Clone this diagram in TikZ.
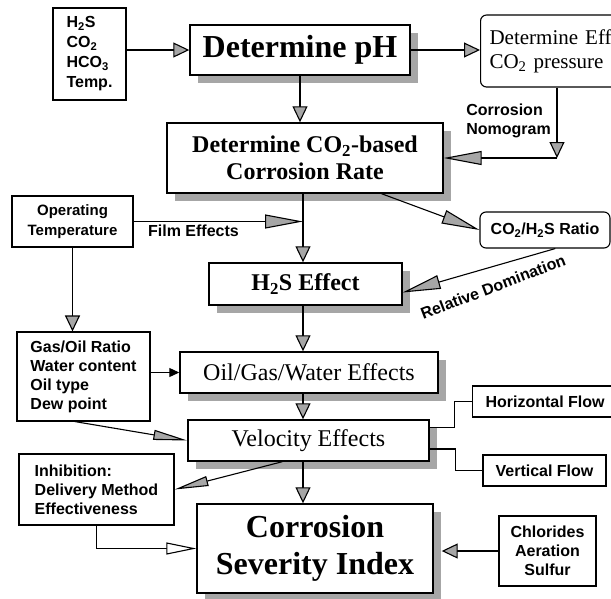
\documentclass[tikz,border=0pt]{standalone}
\usepackage{fontspec}
\setmainfont{Liberation Serif}
\setsansfont{Liberation Sans}
\usepackage{tikz}
\usetikzlibrary{arrows.meta, positioning, shadows, calc}
\tikzstyle{bigbox} = [rectangle, draw, line width=1.4pt, fill=white, align=center,
    drop shadow={shadow xshift=8pt, shadow yshift=-8pt, fill=gray!70, opacity=1},
    font=\bfseries\fontsize{24}{27}\selectfont]
\tikzstyle{plainbox} = [rectangle, draw, line width=1.4pt, fill=white, align=center,
    drop shadow={shadow xshift=8pt, shadow yshift=-8pt, fill=gray!70, opacity=1},
    font=\fontsize{24}{27}\selectfont]
\tikzstyle{info} = [rectangle, draw, line width=1.1pt, fill=white,
    font=\sffamily\bfseries\fontsize{16}{19}\selectfont]
\tikzstyle{note} = [font=\sffamily\bfseries\fontsize{16}{19}\selectfont, inner sep=2pt]
\tikzstyle{arrow} = [line width=1.1pt, -{Triangle[length=16pt, width=15pt, fill=gray!70]}]
\tikzstyle{longarrow} = [line width=1.1pt, -{Triangle[length=38pt, width=14pt, fill=gray!70]}]
\tikzstyle{thinarrow} = [line width=1.1pt, -{Triangle[length=34pt, width=10pt, fill=gray!70]}]
\tikzstyle{openarrow} = [line width=1.1pt, -{Triangle[length=30pt, width=12pt, fill=white]}]
\tikzstyle{smallarrow} = [line width=1.1pt, -{Triangle[length=10pt, width=9pt]}]

\begin{document}
\begin{tikzpicture}[x=1pt, y=-1pt]
    \useasboundingbox (0,0) rectangle (611,598);
    \coordinate (mid) at (303,0);
    \coordinate (nomo) at (557,158);

    % Main chain
    \node[bigbox, font=\bfseries\fontsize{32}{34}\selectfont, minimum width=220pt, minimum height=50pt] (ph) at (300,50) {Determine pH};
    \node[bigbox, minimum width=276pt, minimum height=70pt] (rate) at (305,158) {Determine CO\textsubscript{2}-based\\Corrosion Rate};
    \node[bigbox, minimum width=193pt, minimum height=42pt] (h2s) at (305.5,284) {H\textsubscript{2}S Effect};
    \node[plainbox, minimum width=258pt, minimum height=41pt] (ogw) at (309,372.5) {Oil/Gas/Water Effects};
    \node[plainbox, minimum width=241pt, minimum height=41pt] (vel) at (308.5,440.5) {Velocity Effects};
    \node[bigbox, font=\bfseries\fontsize{32}{37}\selectfont, minimum width=236pt, minimum height=89pt] (csi) at (315,548.5) {Corrosion\\Severity Index};

    % Side boxes
    \node[info, align=left, font=\sffamily\bfseries\fontsize{16}{20}\selectfont, minimum width=73pt, minimum height=92pt] (inputs) at (89.5,54) {H\textsubscript{2}S\\CO\textsubscript{2}\\HCO\textsubscript{3}\\Temp.};
    \node[info, rounded corners=6pt, font=\fontsize{21}{24}\selectfont, align=left, anchor=west, inner xsep=9pt, text width=210pt, minimum height=72pt] (eff) at (480,51) {Determine Effective\\CO\textsubscript{2} pressure};
    \node[info, align=center, font=\sffamily\bfseries\fontsize{15}{20}\selectfont, minimum width=121pt, minimum height=51pt] (optemp) at (72.5,221.5) {Operating\\Temperature};
    \node[info, rounded corners=6pt, minimum width=130pt, minimum height=36pt] (ratio) at (545,230) {CO\textsubscript{2}/H\textsubscript{2}S Ratio};
    \node[info, align=left, minimum width=133pt, minimum height=89pt] (gasoil) at (83.5,376.5) {Gas/Oil Ratio\\Water content\\Oil type\\Dew point};
    \node[info, anchor=west, minimum width=145pt, minimum height=31pt] (horiz) at (472,401.5) {Horizontal Flow};
    \node[info, minimum width=123pt, minimum height=31pt] (vert) at (544.5,470.5) {Vertical Flow};
    \node[info, align=left, minimum width=155pt, minimum height=71pt] (inhib) at (96.5,489.5) {Inhibition:\\Delivery Method\\Effectiveness};
    \node[info, align=center, minimum width=97pt, minimum height=70pt] (chlor) at (547.5,551) {Chlorides\\Aeration\\Sulfur};

    % Connectors
    \draw[arrow] (inputs.east |- ph.west) -- (ph.west);
    \draw[arrow] (ph.east) -- (ph.east -| eff.west);
    \draw[arrow] (ph.south) -- (ph.south |- rate.north);
    \draw[arrow] (eff.south -| nomo) -- (nomo);
    \draw[longarrow] (nomo) -- (rate.east);
    \draw[longarrow] (rate.-25) -- (ratio.west);
    \draw[longarrow] (ratio.-61) -- (h2s.-5);
    \draw[longarrow] (optemp.east) -- (optemp.east -| mid);
    \draw[arrow] (rate.south -| mid) -- (h2s.north -| mid);
    \draw[arrow] (h2s.south -| mid) -- (ogw.north -| mid);
    \draw[arrow] (optemp.south) -- (optemp.south |- gasoil.north);
    \draw[smallarrow] (ogw.west -| gasoil.east) -- (ogw.west);
    \draw[arrow] (ogw.south -| mid) -- (vel.north -| mid);
    \draw[thinarrow] (gasoil.259) -- (vel.west);
    \draw[line width=1.1pt] (vel.6) -- ++(25,0) |- (horiz.west);
    \draw[line width=1.1pt] (vel.-4.5) -- ++(26,0) |- (vert.west);
    \draw[thinarrow] (vel.219) -- (inhib.east);
    \draw[arrow] (vel.south -| mid) -- (csi.north -| mid);
    \draw[openarrow] (inhib.south) |- (csi.west);
    \draw[arrow, shorten >=8pt] (chlor.west) -- (chlor.west -| csi.east);

    % Labels
    \node[note, align=left, anchor=east] (nomolabel) at (553,121) {Corrosion\\Nomogram};
    \node[note] (filmlabel) at (193.5,231) {Film Effects};
    \node[note, rotate=21] (domlabel) at (493,287) {Relative Domination};
\end{tikzpicture}
\end{document}
